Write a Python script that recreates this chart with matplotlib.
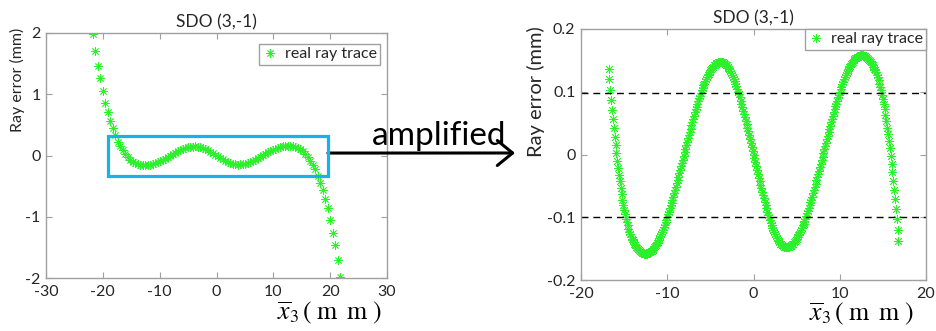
import matplotlib
matplotlib.use("Agg")
import matplotlib.pyplot as plt
import numpy as np
from matplotlib.patches import Rectangle

plt.rcParams['font.family'] = ['Lato', 'DejaVu Sans']
plt.rcParams['mathtext.fontset'] = 'stix'
plt.rcParams['axes.unicode_minus'] = False

# left panel: full ray error curve (sampled every ~0.44 mm)
x_full_first, x_full_last = -21.78, 21.78
y_full = [1.99, 1.71, 1.46, 1.26, 1.05, 0.86, 0.705, 0.57, 0.444, 0.335, 0.225, 0.155,
          0.087, 0.023, -0.030, -0.074, -0.106, -0.127, -0.141, -0.151, -0.156, -0.158,
          -0.156, -0.151, -0.142, -0.130, -0.114, -0.095, -0.075, -0.053, -0.029, -0.004,
          0.020, 0.043, 0.066, 0.086, 0.105, 0.120, 0.132, 0.141, 0.146, 0.148,
          0.145, 0.137, 0.124, 0.108, 0.088, 0.065, 0.040, 0.013,
          -0.013, -0.040, -0.065, -0.088, -0.108, -0.124, -0.137, -0.145,
          -0.148, -0.146, -0.141, -0.132, -0.120, -0.105, -0.086, -0.066, -0.043, -0.020,
          0.004, 0.029, 0.053, 0.075, 0.095, 0.114, 0.130, 0.142, 0.151, 0.156,
          0.158, 0.156, 0.151, 0.141, 0.127, 0.106, 0.074, 0.030, -0.023, -0.087,
          -0.155, -0.225, -0.335, -0.444, -0.57, -0.705, -0.86, -1.05, -1.26, -1.46, -1.71, -1.99]

# right panel: amplified part (sampled every 0.1 mm)
x_zoom_first, x_zoom_last = -16.8, 16.8
y_zoom = [0.137, 0.120, 0.103, 0.087, 0.071, 0.056, 0.042, 0.028, 0.015, 0.002,
          -0.010, -0.021, -0.032, -0.043,
          -0.054, -0.063, -0.072, -0.081, -0.088, -0.095, -0.102, -0.108, -0.113, -0.118,
          -0.123, -0.127, -0.131, -0.134, -0.137, -0.140, -0.143, -0.145, -0.147, -0.149,
          -0.151, -0.152, -0.153, -0.155, -0.156, -0.157, -0.157, -0.158, -0.158, -0.158,
          -0.158, -0.158, -0.157, -0.156, -0.155, -0.154, -0.153, -0.152, -0.150, -0.148,
          -0.146, -0.144, -0.141, -0.139, -0.136, -0.133, -0.130, -0.127, -0.123, -0.120,
          -0.116, -0.112, -0.108, -0.104, -0.100, -0.095, -0.091, -0.086, -0.081, -0.077,
          -0.072, -0.067, -0.062, -0.057, -0.051, -0.046, -0.041, -0.036, -0.030, -0.025,
          -0.019, -0.014, -0.008, -0.002, 0.004, 0.009, 0.015, 0.020, 0.026, 0.031,
          0.036, 0.041, 0.047, 0.052, 0.057, 0.062, 0.067, 0.072, 0.076, 0.081,
          0.085, 0.090, 0.094, 0.098, 0.102, 0.106, 0.110, 0.113, 0.117, 0.120,
          0.123, 0.126, 0.129, 0.131, 0.134, 0.136, 0.138, 0.140, 0.142, 0.143,
          0.144, 0.146, 0.146, 0.147, 0.148, 0.148, 0.148,
          0.148, 0.147, 0.147, 0.146, 0.145, 0.143, 0.142, 0.140, 0.138, 0.136,
          0.133, 0.130, 0.127, 0.124, 0.120, 0.117, 0.113, 0.109, 0.105, 0.100,
          0.096, 0.091, 0.086, 0.081, 0.076, 0.070, 0.065, 0.060, 0.054, 0.048,
          0.042, 0.037, 0.031, 0.025, 0.018, 0.012, 0.006, 0.000,
          -0.006, -0.012, -0.018, -0.025, -0.031, -0.037, -0.042, -0.048, -0.054, -0.060,
          -0.065, -0.070, -0.076, -0.081, -0.086, -0.091, -0.096, -0.100, -0.105, -0.109,
          -0.113, -0.117, -0.120, -0.124, -0.127, -0.130, -0.133, -0.136, -0.138, -0.140,
          -0.142, -0.143, -0.145, -0.146, -0.147, -0.147, -0.148,
          -0.148, -0.148, -0.148, -0.147, -0.146, -0.146, -0.144, -0.143, -0.142, -0.140,
          -0.138, -0.136, -0.134, -0.131, -0.129, -0.126, -0.123, -0.120, -0.117, -0.113,
          -0.110, -0.106, -0.102, -0.098, -0.094, -0.090, -0.085, -0.081, -0.076, -0.072,
          -0.067, -0.062, -0.057, -0.052, -0.047, -0.041, -0.036, -0.031, -0.026, -0.020,
          -0.015, -0.009, -0.004, 0.002, 0.008, 0.014, 0.019, 0.025, 0.030, 0.036,
          0.041, 0.046, 0.051, 0.057, 0.062, 0.067, 0.072, 0.077, 0.081, 0.086,
          0.091, 0.095, 0.100, 0.104, 0.108, 0.112, 0.116, 0.120, 0.123, 0.127,
          0.130, 0.133, 0.136, 0.139, 0.141, 0.144, 0.146, 0.148, 0.150, 0.152,
          0.153, 0.154, 0.155, 0.156, 0.157, 0.158, 0.158,
          0.158, 0.158, 0.158, 0.157, 0.157, 0.156, 0.155, 0.153, 0.152, 0.151,
          0.149, 0.147, 0.145, 0.143, 0.140, 0.137, 0.134, 0.131, 0.127, 0.123,
          0.118, 0.113, 0.108, 0.102, 0.095, 0.088, 0.081, 0.072, 0.063, 0.054,
          0.043, 0.032, 0.021, 0.010, -0.002, -0.015, -0.028, -0.042, -0.056, -0.071,
          -0.087, -0.103, -0.120, -0.138]

x_full = np.linspace(x_full_first, x_full_last, len(y_full))
x_zoom = np.linspace(x_zoom_first, x_zoom_last, len(y_zoom))

tol_lines = [0.098, -0.099]
box_x = [-19.1, 19.6]
box_y = [-0.335, 0.32]

title = 'SDO (3,-1)'
legend_label = 'real ray trace'
xlab = r'$\overline{x}_3\,(\;\mathrm{m}\;\;\mathrm{m}\;)$'
ylab = 'Ray error (mm)'

green = '#2cf02c'
grey = '#a0a0a0'
star = (8, 2, 0)

fig = plt.figure(figsize=(9.36, 3.31), dpi=100)
ax1 = fig.add_axes([46/936, 53/331, 341/936, 245/331])
ax2 = fig.add_axes([581/936, 51/331, 345/936, 251/331])

ax1.plot(x_full, y_full, linestyle='none', marker=star, markersize=6,
         markeredgewidth=0.6, color=green, label=legend_label)
ax2.plot(x_zoom, y_zoom, linestyle='none', marker=star, markersize=6.5,
         markeredgewidth=0.6, color=green, label=legend_label)
for yl in tol_lines:
    ax2.axhline(yl, color='black', linestyle=(0, (5, 3.5)), linewidth=1.0)

ax1.set_xlim(-30, 30)
ax1.set_ylim(-2, 2)
ax1.set_xticks([-30, -20, -10, 0, 10, 20, 30])
ax1.set_xticklabels(['-30', '-20', '-10', '0', '10', '20', '30'])
ax1.set_yticks([-2, -1, 0, 1, 2])
ax1.set_yticklabels(['-2', '-1', '0', '1', '2'])

ax2.set_xlim(-20, 20)
ax2.set_ylim(-0.2, 0.2)
ax2.set_xticks([-20, -10, 0, 10, 20])
ax2.set_xticklabels(['-20', '-10', '0', '10', '20'])
ax2.set_yticks([-0.2, -0.1, 0, 0.1, 0.2])
ax2.set_yticklabels(['-0.2', '-0.1', '0', '0.1', '0.2'])

for ax in (ax1, ax2):
    for s in ax.spines.values():
        s.set_color(grey)
        s.set_linewidth(1.0)
    ax.tick_params(direction='in', length=4, width=0.8, color=grey,
                   top=True, right=True, labelsize=11.5, labelcolor='#262626')
    ax.tick_params(axis='x', pad=5)
    ax.tick_params(axis='y', pad=4)
    ax.set_title(title, fontsize=12.5, color='#262626', pad=4)
    leg = ax.legend(fontsize=11.5, fancybox=False, framealpha=1, edgecolor=grey,
                    handlelength=1.0, handletextpad=0.4, borderpad=0.2,
                    borderaxespad=0, loc='upper right',
                    bbox_to_anchor=(0.979, 0.955) if ax is ax1 else (1.0, 1.0))
    leg.get_frame().set_linewidth(1.0)
    for t in leg.get_texts():
        t.set_color('#262626')

ax1.set_ylabel(ylab, fontsize=11.5, color='#262626')
ax1.yaxis.set_label_coords(-0.062, 0.808)
ax2.set_ylabel(ylab, fontsize=14.5, color='#262626')
ax2.yaxis.set_label_coords(-0.104, 0.75)

ax1.set_xlabel(xlab, fontsize=18.5)
ax1.xaxis.set_label_coords(0.83, -0.087)
ax2.set_xlabel(xlab, fontsize=18.5)
ax2.xaxis.set_label_coords(0.813, -0.08)

# highlighted region on the left panel
ax1.add_patch(Rectangle((box_x[0], box_y[0]), box_x[1] - box_x[0], box_y[1] - box_y[0],
                        fill=False, edgecolor='#1ab0ea', linewidth=2.3, clip_on=False, zorder=5))

# arrow to the amplified panel
ax1.annotate('', xy=(515/936, 1 - 153/331), xycoords='figure fraction',
             xytext=(box_x[1], 0.04), textcoords='data',
             arrowprops=dict(arrowstyle='->, head_length=0.55, head_width=0.45',
                             color='black', lw=2.2, mutation_scale=20,
                             shrinkA=0, shrinkB=0))
fig.text(372/936, 1 - 145/331, 'amplified', fontsize=24, color='black',
         ha='left', va='baseline')

fig.savefig('out.png', dpi=100)
